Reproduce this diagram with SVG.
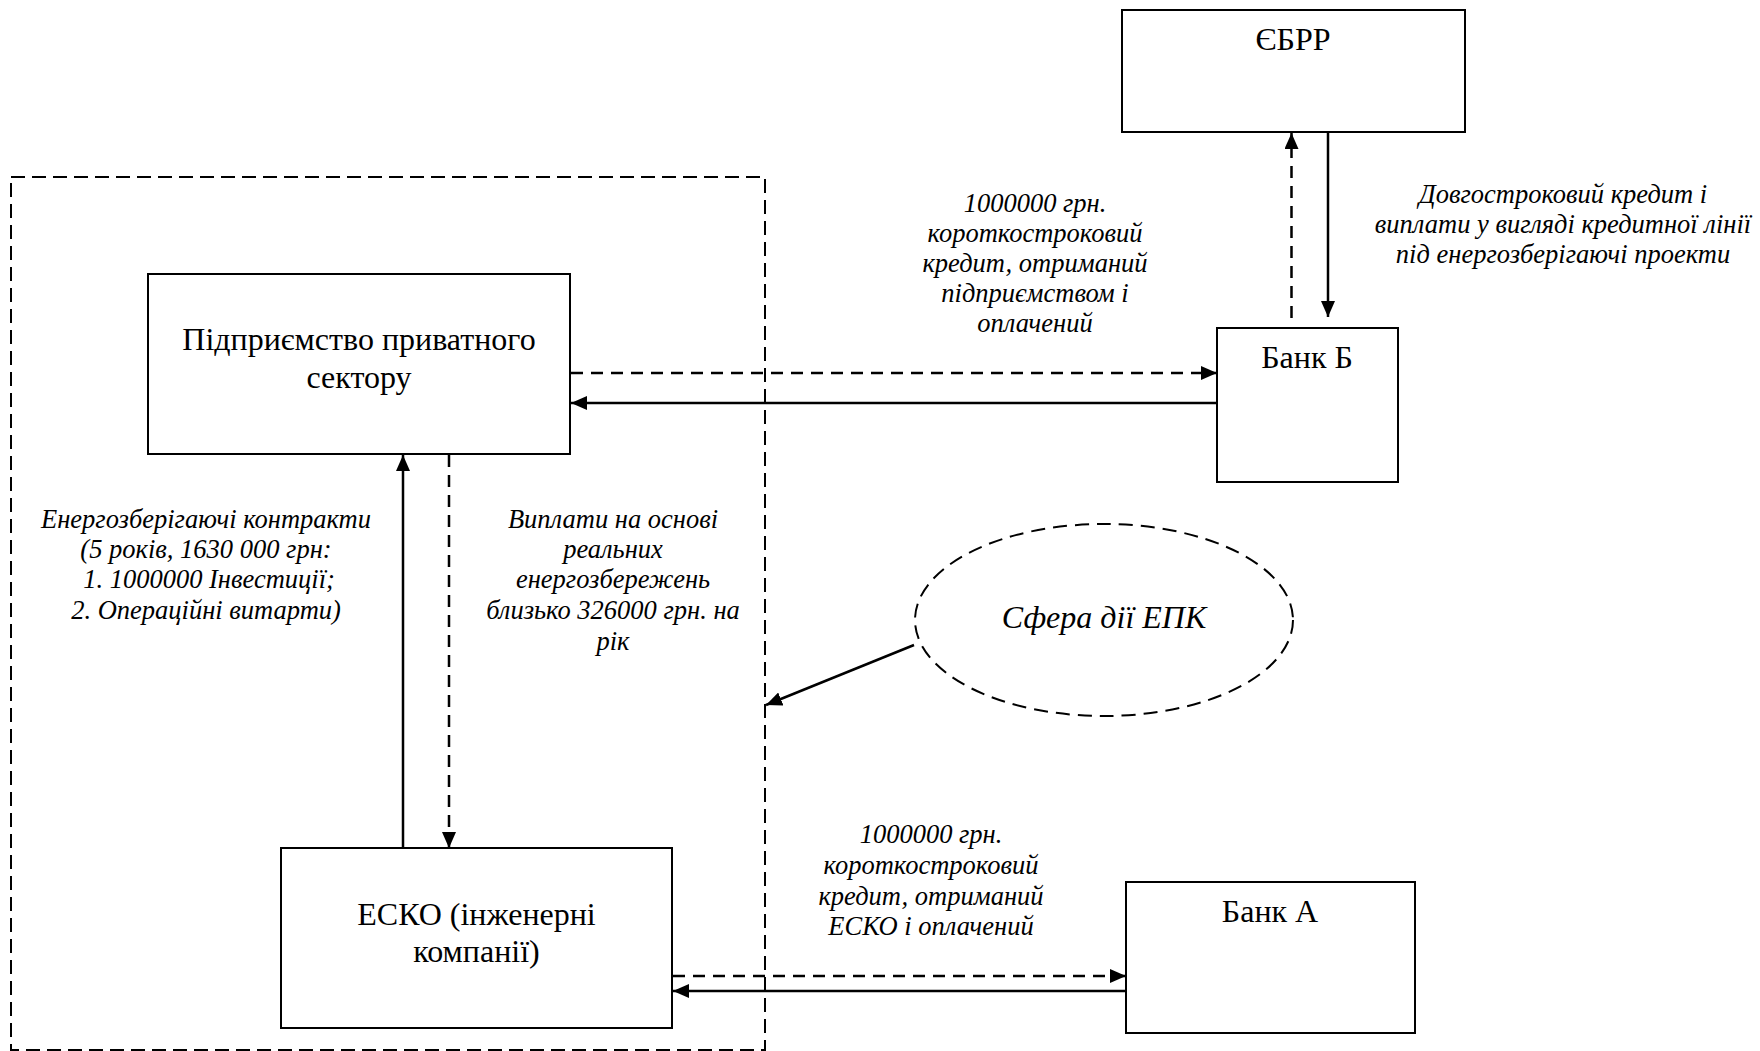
<svg xmlns="http://www.w3.org/2000/svg" width="1760" height="1051" viewBox="0 0 1760 1051">
<style>
.box{fill:#fff;stroke:#000;stroke-width:2}
.bt{font-family:"Liberation Serif","Times New Roman",serif;font-size:32px;fill:#000;text-anchor:middle}
.lt{font-family:"Liberation Serif","Times New Roman",serif;font-size:26.5px;font-style:italic;fill:#000;text-anchor:middle}
.sol{fill:none;stroke:#000;stroke-width:2.5}
.dsh{fill:none;stroke:#000;stroke-width:2.5;stroke-dasharray:12 8}
</style>
<defs>
<marker id="ah" viewBox="0 0 16 14" refX="16" refY="7" markerWidth="16" markerHeight="14" markerUnits="userSpaceOnUse" orient="auto">
<path d="M0,0 L16,7 L0,14 z" fill="#000"/>
</marker>
</defs>
<rect width="1760" height="1051" fill="#fff"/>
<g id="boundary">
<rect x="11" y="177" width="754" height="873" fill="none" stroke="#000" stroke-width="2" stroke-dasharray="14 7"/>
</g>
<g id="ebrd">
<rect class="box" x="1122" y="10" width="343" height="122"/>
<text class="bt" x="1293" y="50">ЄБРР</text>
</g>
<g id="bankB">
<rect class="box" x="1217" y="328" width="181" height="154"/>
<text class="bt" x="1307" y="368">Банк Б</text>
</g>
<g id="enterprise">
<rect class="box" x="148" y="274" width="422" height="180"/>
<text class="bt" x="359" y="350">Підприємство приватного</text>
<text class="bt" x="359" y="388">сектору</text>
</g>
<g id="esco">
<rect class="box" x="281" y="848" width="391" height="180"/>
<text class="bt" x="476.5" y="925">ЕСКО (інженерні</text>
<text class="bt" x="476.5" y="962">компанії)</text>
</g>
<g id="bankA">
<rect class="box" x="1126" y="882" width="289" height="151"/>
<text class="bt" x="1270" y="922">Банк А</text>
</g>
<g id="epc">
<ellipse cx="1104" cy="620" rx="189" ry="96" fill="none" stroke="#000" stroke-width="2" stroke-dasharray="14 8"/>
<text class="bt" x="1104" y="628" font-style="italic">Сфера дії ЕПК</text>
</g>
<g id="connectors">
<line class="dsh" x1="1291.5" y1="318" x2="1291.5" y2="133" marker-end="url(#ah)"/>
<line class="sol" x1="1328" y1="133" x2="1328" y2="317" marker-end="url(#ah)"/>
<line class="dsh" x1="571" y1="373" x2="1217" y2="373" marker-end="url(#ah)"/>
<line class="sol" x1="1217" y1="403" x2="571" y2="403" marker-end="url(#ah)"/>
<line class="sol" x1="403" y1="848" x2="403" y2="455" marker-end="url(#ah)"/>
<line class="dsh" x1="449" y1="455" x2="449" y2="848" marker-end="url(#ah)"/>
<line class="dsh" x1="673" y1="976" x2="1126" y2="976" marker-end="url(#ah)"/>
<line class="sol" x1="1126" y1="991" x2="673" y2="991" marker-end="url(#ah)"/>
<line class="sol" x1="914" y1="645" x2="766" y2="705" marker-end="url(#ah)"/>
</g>
<g id="labels">
<text class="lt" x="1035" y="212">1000000 грн.</text>
<text class="lt" x="1035" y="242">короткостроковий</text>
<text class="lt" x="1035" y="272">кредит, отриманий</text>
<text class="lt" x="1035" y="302">підприємством і</text>
<text class="lt" x="1035" y="332">оплачений</text>
<text class="lt" x="1563" y="203">Довгостроковий кредит і</text>
<text class="lt" x="1563" y="233">виплати у вигляді кредитної лінії</text>
<text class="lt" x="1563" y="263">під енергозберігаючі проекти</text>
<text class="lt" x="206" y="528">Енергозберігаючі контракти</text>
<text class="lt" x="206" y="558">(5 років, 1630 000 грн:</text>
<text class="lt" x="209" y="588">1. 1000000 Інвестиції;</text>
<text class="lt" x="206" y="619">2. Операційні витарти)</text>
<text class="lt" x="613" y="528">Виплати на основі</text>
<text class="lt" x="613" y="558">реальних</text>
<text class="lt" x="613" y="588">енергозбережень</text>
<text class="lt" x="613" y="619">близько 326000 грн. на</text>
<text class="lt" x="613" y="650">рік</text>
<text class="lt" x="931" y="843">1000000 грн.</text>
<text class="lt" x="931" y="874">короткостроковий</text>
<text class="lt" x="931" y="905">кредит, отриманий</text>
<text class="lt" x="931" y="935">ЕСКО і оплачений</text>
</g>
</svg>
